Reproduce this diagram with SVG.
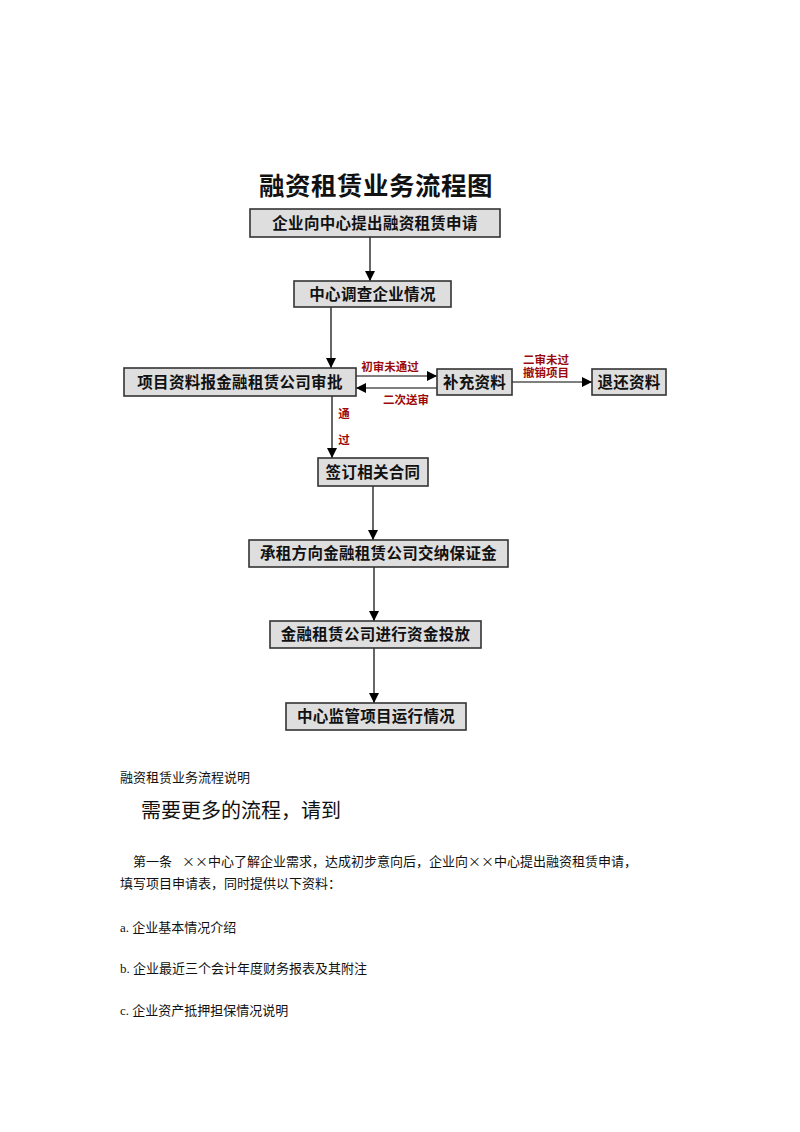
<svg xmlns="http://www.w3.org/2000/svg" width="800" height="1132" viewBox="0 0 800 1132">
<style>
.box{fill:#dedede;stroke:#333;stroke-width:1.6}
.bt{font-family:"Liberation Serif","Noto Sans CJK SC",serif;font-size:15.5px;fill:#111;text-anchor:middle;font-weight:bold;letter-spacing:0.3px}
.ln{stroke:#000;stroke-width:1.2;fill:none}
.red{font-family:"Liberation Sans","Noto Sans CJK SC",sans-serif;font-size:11.5px;fill:#9b0a0a;font-weight:bold;text-anchor:middle}
.body{font-family:"Liberation Serif","Noto Sans CJK SC",serif;font-size:13px;fill:#111}
.cjk{font-family:"Noto Sans CJK SC",sans-serif}
</style>
<defs>
<marker id="ah" markerWidth="10" markerHeight="10" refX="10" refY="5" orient="auto" markerUnits="userSpaceOnUse">
<path d="M0,0 L10,5 L0,10 Z" fill="#000"/>
</marker>
</defs>
<rect width="800" height="1132" fill="#fff"/>
<text x="376" y="195" font-family="Liberation Sans,'Noto Sans CJK SC',sans-serif" font-size="25.5" font-weight="bold" text-anchor="middle" fill="#111" letter-spacing="0.5">融资租赁业务流程图</text>

<g id="connectors">
<line class="ln" x1="370" y1="237" x2="370" y2="281" marker-end="url(#ah)"/>
<line class="ln" x1="331" y1="307" x2="331" y2="368" marker-end="url(#ah)"/>
<line class="ln" x1="332" y1="396" x2="332" y2="458" marker-end="url(#ah)"/>
<line class="ln" x1="356" y1="376" x2="437" y2="376" marker-end="url(#ah)"/>
<line class="ln" x1="437" y1="388" x2="356" y2="388" marker-end="url(#ah)"/>
<line class="ln" x1="512" y1="382" x2="592" y2="382" marker-end="url(#ah)"/>
<line class="ln" x1="373" y1="486" x2="373" y2="540" marker-end="url(#ah)"/>
<line class="ln" x1="374" y1="567" x2="374" y2="621" marker-end="url(#ah)"/>
<line class="ln" x1="374" y1="648" x2="374" y2="703" marker-end="url(#ah)"/>
<text class="red" x="390" y="371">初审未通过</text>
<text class="red" x="406" y="404">二次送审</text>
<text class="red" x="546" y="364">二审未过</text>
<text class="red" x="546" y="377">撤销项目</text>
<text class="red" x="344" y="418">通</text>
<text class="red" x="344" y="444">过</text>
</g>

<g id="n1"><rect class="box" x="250" y="209" width="250" height="28"/><text class="bt" x="375" y="229">企业向中心提出融资租赁申请</text></g>
<g id="n2"><rect class="box" x="294" y="281" width="157" height="26"/><text class="bt" x="372.5" y="300">中心调查企业情况</text></g>
<g id="n3"><rect class="box" x="124" y="368" width="232" height="28"/><text class="bt" x="240" y="388">项目资料报金融租赁公司审批</text></g>
<g id="n4"><rect class="box" x="437" y="369" width="75" height="26"/><text class="bt" x="474.5" y="388">补充资料</text></g>
<g id="n5"><rect class="box" x="592" y="369" width="74" height="26"/><text class="bt" x="629" y="388">退还资料</text></g>
<g id="n6"><rect class="box" x="318" y="458" width="110" height="28"/><text class="bt" x="373" y="478">签订相关合同</text></g>
<g id="n7"><rect class="box" x="249" y="540" width="259" height="27"/><text class="bt" x="378.5" y="559">承租方向金融租赁公司交纳保证金</text></g>
<g id="n8"><rect class="box" x="270" y="621" width="211" height="27"/><text class="bt" x="375.5" y="640">金融租赁公司进行资金投放</text></g>
<g id="n9"><rect class="box" x="286" y="703" width="180" height="27"/><text class="bt" x="376" y="722">中心监管项目运行情况</text></g>

<g id="body">
<text class="body" x="120" y="782">融资租赁业务流程说明</text>
<text class="body" x="141" y="818" style="font-size:20px">需要更多的流程，请到</text>
<text class="body" x="133" y="866">第一条<tspan class="cjk" dx="10">××</tspan>中心了解企业需求，达成初步意向后，企业向<tspan class="cjk">××</tspan>中心提出融资租赁申请，</text>
<text class="body" x="120" y="888">填写项目申请表，同时提供以下资料：</text>
<text class="body" x="120" y="932">a. 企业基本情况介绍</text>
<text class="body" x="120" y="973">b. 企业最近三个会计年度财务报表及其附注</text>
<text class="body" x="120" y="1015">c. 企业资产抵押担保情况说明</text>
</g>
</svg>
